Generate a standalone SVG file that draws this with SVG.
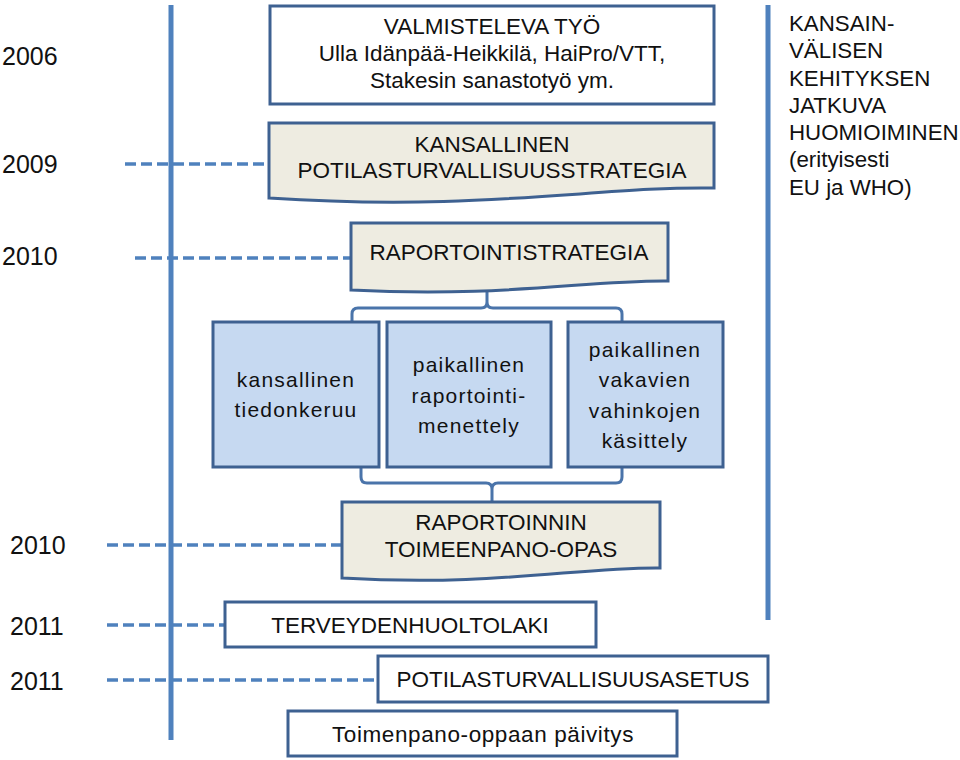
<svg xmlns="http://www.w3.org/2000/svg" width="960" height="760" viewBox="0 0 960 760">
<style>
.t{font-family:"Liberation Sans",Arial,sans-serif;font-size:22.5px;fill:#111;text-anchor:middle}
.yr{font-family:"Liberation Sans",Arial,sans-serif;font-size:25px;fill:#111}
.rt{font-family:"Liberation Sans",Arial,sans-serif;font-size:22.3px;fill:#111}
.bt{font-family:"Liberation Sans",Arial,sans-serif;font-size:21px;fill:#111;text-anchor:middle;letter-spacing:1.2px}
.box{fill:#fff;stroke:#3e6191;stroke-width:3}
.doc{fill:#eeece1;stroke:#3e6191;stroke-width:3;stroke-linejoin:miter}
.blue{fill:#c6d9f1;stroke:#3e6191;stroke-width:3}
.axis{stroke:#4f81bd;stroke-width:5;fill:none}
.dash{stroke:#4f81bd;stroke-width:3.5;stroke-dasharray:11 5;fill:none}
.brace{stroke:#4a74aa;stroke-width:3;fill:none}
</style>
<rect width="960" height="760" fill="#fff"/>

<g id="years">
<text class="yr" x="2" y="65">2006</text>
<text class="yr" x="2" y="173">2009</text>
<text class="yr" x="2" y="265">2010</text>
<text class="yr" x="10" y="554">2010</text>
<text class="yr" x="10" y="635">2011</text>
<text class="yr" x="10" y="690">2011</text>
</g>

<g id="connectors">
<line class="axis" x1="171" y1="5" x2="171" y2="740"/>
<line class="axis" x1="768" y1="5" x2="768" y2="620"/>
<line class="dash" x1="125" y1="164" x2="269" y2="164"/>
<line class="dash" x1="135" y1="258" x2="351" y2="258"/>
<line class="dash" x1="107" y1="545" x2="342" y2="545"/>
<line class="dash" x1="107" y1="625" x2="225" y2="625"/>
<line class="dash" x1="107" y1="680" x2="378" y2="680"/>
<path class="brace" d="M352,322 V314 Q352,308 358,308 H481 Q487,308 487,302 V292 M487,302 Q487,308 493,308 H616 Q622,308 622,314 V322"/>
<path class="brace" d="M361,467 V477 Q361,483 367,483 H486 Q492,483 492,489 V502 M492,489 Q492,483 498,483 H616 Q622,483 622,477 V467"/>
</g>

<g id="valmisteleva">
<rect class="box" x="270" y="6" width="444" height="98"/>
<text class="t" x="492" y="34">VALMISTELEVA TYÖ</text>
<text class="t" x="492" y="61">Ulla Idänpää-Heikkilä, HaiPro/VTT,</text>
<text class="t" x="492" y="88">Stakesin sanastotyö ym.</text>
</g>

<g id="kansallinen">
<path class="doc" d="M269,123 H714 V188 C600,186 480,212 269,198 Z"/>
<text class="t" x="492" y="152">KANSALLINEN</text>
<text class="t" x="492" y="178">POTILASTURVALLISUUSSTRATEGIA</text>
</g>

<g id="raportointistrategia">
<path class="doc" d="M351,223 H668 V281 C587,280 502,298 351,290 Z"/>
<text class="t" x="509" y="260">RAPORTOINTISTRATEGIA</text>
</g>

<g id="kansallinen-tiedonkeruu">
<rect class="blue" x="213" y="322" width="166" height="145"/>
<text class="bt" x="296" y="387">kansallinen</text>
<text class="bt" x="296" y="417">tiedonkeruu</text>
</g>

<g id="paikallinen-raportointi">
<rect class="blue" x="387" y="322" width="164" height="145"/>
<text class="bt" x="469" y="372">paikallinen</text>
<text class="bt" x="469" y="403">raportointi-</text>
<text class="bt" x="469" y="433">menettely</text>
</g>

<g id="paikallinen-vakavien">
<rect class="blue" x="568" y="322" width="155" height="145"/>
<text class="bt" x="645" y="357">paikallinen</text>
<text class="bt" x="645" y="387">vakavien</text>
<text class="bt" x="645" y="418">vahinkojen</text>
<text class="bt" x="645" y="448">käsittely</text>
</g>

<g id="toimeenpano-opas">
<path class="doc" d="M342,502 H660 V568 C578,567 493,587 342,578 Z"/>
<text class="t" x="501" y="530">RAPORTOINNIN</text>
<text class="t" x="501" y="557">TOIMEENPANO-OPAS</text>
</g>

<g id="terveydenhuoltolaki">
<rect class="box" x="225" y="602" width="371" height="45"/>
<text class="t" x="410" y="633">TERVEYDENHUOLTOLAKI</text>
</g>

<g id="asetus">
<rect class="box" x="378" y="656" width="390" height="46"/>
<text class="t" x="573" y="687">POTILASTURVALLISUUSASETUS</text>
</g>

<g id="paivitys">
<rect class="box" x="288" y="711" width="389" height="45"/>
<text class="t" x="483" y="742" style="letter-spacing:0.6px">Toimenpano-oppaan päivitys</text>
</g>

<g id="kansainvalinen">
<text class="rt" x="789" y="31">KANSAIN-</text>
<text class="rt" x="789" y="58">VÄLISEN</text>
<text class="rt" x="789" y="86">KEHITYKSEN</text>
<text class="rt" x="789" y="113">JATKUVA</text>
<text class="rt" x="789" y="140">HUOMIOIMINEN</text>
<text class="rt" x="789" y="167">(erityisesti</text>
<text class="rt" x="789" y="195">EU ja WHO)</text>
</g>
</svg>
